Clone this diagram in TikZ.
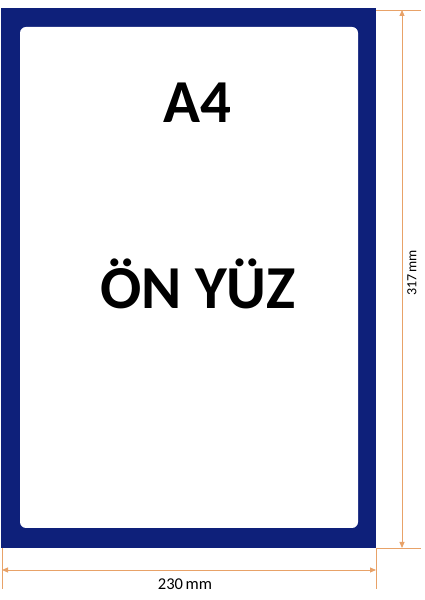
\documentclass[tikz,border=0pt]{standalone}
\usepackage{fontspec}
\setmainfont{Carlito}
\usepackage{xcolor}
\usepackage{tikz}
\usetikzlibrary{arrows.meta,positioning,calc}

\definecolor{framenavy}{RGB}{14,32,122}
\definecolor{dimorange}{RGB}{232,162,104}

\begin{document}
\begin{tikzpicture}[x=1pt, y=1pt,
    dimline/.style={draw=dimorange, line width=0.9pt, {Triangle[length=6pt,width=5pt]}-{Triangle[length=6pt,width=5pt]}},
    extline/.style={draw=dimorange, line width=0.9pt},
    bigtext/.style={font=\fontsize{61}{70}\selectfont\bfseries, text=black},
    dimlabel/.style={text=black, inner sep=1pt}]
    \useasboundingbox (0,0) rectangle (424,600);

    % Frame
    \fill[framenavy] (1,52) rectangle (376,592);
    \fill[white, rounded corners=6pt] (20,72) rectangle (358,573);

    % Texts
    \node[bigtext] (size) at (197,497) {A4};
    \node[bigtext] (side) at (198,316) {ÖN YÜZ};

    % Height
    \coordinate (ht) at (376,590);
    \coordinate (hb) at (376,52);
    \coordinate (htend) at (421,590);
    \coordinate (hbend) at (421,52);
    \coordinate (hdt) at (402,590);
    \coordinate (hdb) at (402,52);
    \draw[extline] (ht) -- (htend);
    \draw[extline] (hb) -- (hbend);
    \draw[dimline] (hdt) -- (hdb);
    \node[dimlabel, rotate=90, font=\fontsize{14}{16}\selectfont] (height) at (412,327) {317\,mm};

    % Width
    \coordinate (wl) at (2,52);
    \coordinate (wr) at (376,52);
    \coordinate (wlend) at (2,11);
    \coordinate (wrend) at (376,11);
    \coordinate (wdl) at (2,30);
    \coordinate (wdr) at (376,30);
    \draw[extline] (wl) -- (wlend);
    \draw[extline] (wr) -- (wrend);
    \draw[dimline] (wdl) -- (wdr);
    \node[dimlabel, font=\fontsize{16.5}{18}\selectfont] (width) at (185,16) {230\,mm};
\end{tikzpicture}
\end{document}
